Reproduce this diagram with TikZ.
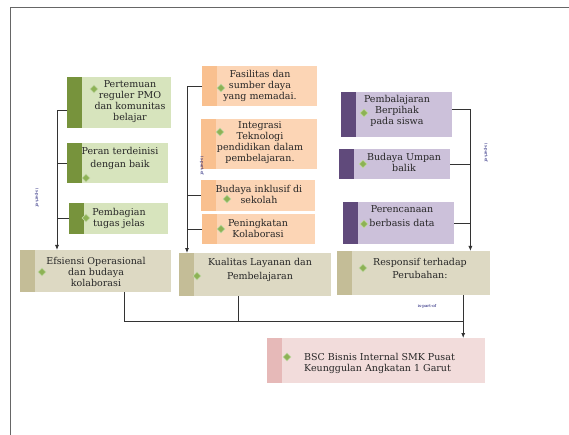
\documentclass[tikz,border=0pt]{standalone}
\usepackage{fontspec}
\setmainfont{DejaVu Serif}
\usetikzlibrary{arrows.meta,positioning,shapes.geometric}
\definecolor{grndk}{HTML}{77933C}
\definecolor{grnlt}{HTML}{D7E4BD}
\definecolor{orgdk}{HTML}{F9C08F}
\definecolor{orglt}{HTML}{FCD5B5}
\definecolor{purdk}{HTML}{604A7B}
\definecolor{purlt}{HTML}{CCC1DA}
\definecolor{tandk}{HTML}{C4BD97}
\definecolor{tanlt}{HTML}{DDD9C3}
\definecolor{pnkdk}{HTML}{E6B9B8}
\definecolor{pnklt}{HTML}{F2DCDB}
\definecolor{dotgrn}{HTML}{8DB255}

\begin{document}
\begin{tikzpicture}[
  x=1pt, y=-1pt,
  font=\fontsize{9.5}{11}\selectfont,
  box/.style 2 args={rectangle, inner sep=0pt, anchor=north west, fill=#2,
    path picture={\fill[#1] (path picture bounding box.north west) rectangle
      ([xshift=15pt]path picture bounding box.south west);}},
  gbox/.style={box={grndk}{grnlt}},
  obox/.style={box={orgdk}{orglt}},
  pbox/.style={box={purdk}{purlt}},
  tbox/.style={box={tandk}{tanlt}},
  kbox/.style={box={pnkdk}{pnklt}},
  sz/.style 2 args={minimum width=#1pt, minimum height=#2pt},
  txt/.style={align=center, inner sep=0pt, text=black!85},
  wide/.style={font=\fontsize{9.5}{13.5}\selectfont},
  dot/.style={diamond, fill=dotgrn, draw=dotgrn!55!white, line width=0.6pt, inner sep=0pt, minimum size=8pt},
  ipo/.style={font=\fontsize{4}{4}\selectfont, text=blue!40!black, inner sep=0pt},
  conn/.style={line width=0.8pt, black!80},
  arrow/.style={conn, -{Latex[length=5pt,width=4pt]}},
  frame/.style={line width=1pt, black!60}
]
\useasboundingbox (0,0) rectangle (569,435);
\draw[frame] (569,8) -| (10,435);

\node[gbox, sz={104}{51}] (pmo) at (67,77) {};
\node[txt] (pmo-t) at (130,102) {Pertemuan\\reguler PMO\\dan komunitas\\belajar};
\node[dot] (pmo-d) at (94,89) {};

\node[gbox, sz={101}{40}] (peran) at (67,143) {};
\node[txt, wide] (peran-t) at (120,158.5) {Peran terdeinisi\\dengan baik};
\node[dot] (peran-d) at (86,178) {};

\node[gbox, sz={99}{31}] (bagi) at (69,203) {};
\node[txt] (bagi-t) at (119,218) {Pembagian\\tugas jelas};
\node[dot] (bagi-d) at (86,218) {};

\node[tbox, sz={151}{42}] (efs) at (20,250) {};
\node[txt] (efs-t) at (96,271.5) {Efsiensi Operasional\\dan budaya\\kolaborasi};
\node[dot] (efs-d) at (42,272) {};

\node[obox, sz={115}{40}] (fas) at (202,66) {};
\node[txt] (fas-t) at (260,86) {Fasilitas dan\\sumber daya\\yang memadai.};
\node[dot] (fas-d) at (221,88) {};

\node[obox, sz={116}{50}] (integ) at (201,119) {};
\node[txt] (integ-t) at (260,143) {Integrasi\\Teknologi\\pendidikan dalam\\pembelajaran.};
\node[dot] (integ-d) at (220,132) {};

\node[obox, sz={114}{31}] (inklu) at (201,180) {};
\node[txt] (inklu-t) at (259,194) {Budaya inklusif di\\sekolah};
\node[dot] (inklu-d) at (227,199) {};

\node[obox, sz={113}{30}] (kolab) at (202,214) {};
\node[txt] (kolab-t) at (258,228.5) {Peningkatan\\Kolaborasi};
\node[dot] (kolab-d) at (221,229) {};

\node[tbox, sz={152}{43}] (kual) at (179,253) {};
\node[txt, wide] (kual-t) at (260,270) {Kualitas Layanan dan\\Pembelajaran};
\node[dot] (kual-d) at (197,276) {};

\node[pbox, sz={111}{45}] (bp) at (341,92) {};
\node[txt] (bp-t) at (397,111) {Pembalajaran\\Berpihak\\pada siswa};
\node[dot] (bp-d) at (364,113) {};

\node[pbox, sz={111}{30}] (ub) at (339,149) {};
\node[txt] (ub-t) at (404,162.5) {Budaya Umpan\\balik};
\node[dot] (ub-d) at (363,164) {};

\node[pbox, sz={111}{42}] (pd) at (343,202) {};
\node[txt, wide] (pd-t) at (402,216) {Perencanaan\\berbasis data};
\node[dot] (pd-d) at (364,224) {};

\node[tbox, sz={153}{44}] (resp) at (337,251) {};
\node[txt, wide] (resp-t) at (420,268.5) {Responsif terhadap\\Perubahan:};
\node[dot] (resp-d) at (363,268) {};

\node[kbox, sz={218}{45}] (bsc) at (267,338) {};
\node[txt, align=left, anchor=west] (bsc-t) at (304,363.5) {BSC Bisnis Internal SMK Pusat\\Keunggulan Angkatan 1 Garut};
\node[dot] (bsc-d) at (287,357) {};

\draw[arrow] ([yshift=-8pt]pmo.west) -- ++(-10pt,0) coordinate (t1) -- (t1 |- efs.north);
\draw[conn] (peran.west) -- (peran.west -| t1);
\draw[conn] (bagi.west) -- (bagi.west -| t1);

\draw[arrow] (fas.west) -- ++(-15pt,0) coordinate (t2) -- (t2 |- kual.north);
\draw[conn] (inklu.west) -- (inklu.west -| t2);
\draw[conn] (kolab.west) -- (kolab.west -| t2);

\draw[arrow] ([yshift=5pt]bp.east) -- ++(18pt,0) coordinate (t3) -- (t3 |- resp.north);
\draw[conn] (ub.east) -- (ub.east -| t3);
\draw[conn] (pd.east) -- (pd.east -| t3);

\draw[arrow] ([xshift=49.5pt]resp.south) -- ([xshift=87pt]bsc.north);
\draw[conn] ([xshift=28.5pt]efs.south) |- ([xshift=49.5pt,yshift=-26pt]resp.south);
\draw[conn] ([xshift=-17pt]kual.south) -- ++(0,-25pt);

\node[ipo, rotate=-90] (lab1) at (37,198) {is-part-of};
\node[ipo, rotate=-90] (lab2) at (202,166) {is-part-of};
\node[ipo, rotate=-90] (lab3) at (486,153) {is-part-of};
\node[ipo] (lab4) at (427,306) {is-part-of};
\end{tikzpicture}
\end{document}
